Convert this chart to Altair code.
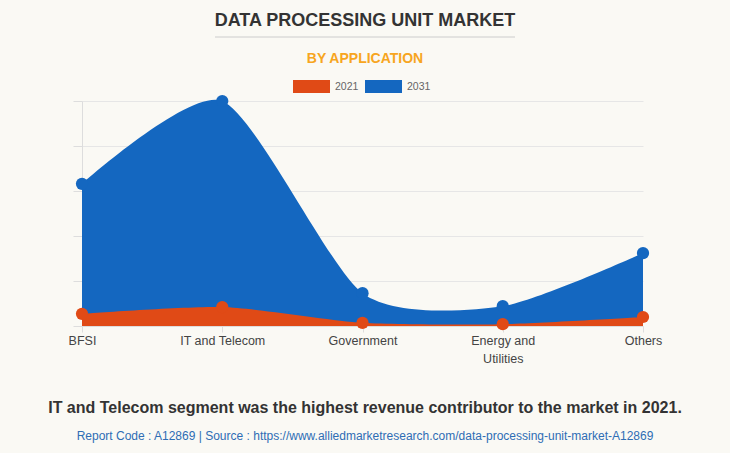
import altair as alt
import pandas as pd

categories = ["BFSI", "IT and Telecom", "Government", "Energy and Utilities", "Others"]
values_2021 = [0.27, 0.42, 0.07, 0.04, 0.20]
values_2031 = [3.16, 5.00, 0.73, 0.44, 1.62]
series = ["2021", "2031"]
colors = ["#E04A16", "#1467C0"]

rows = []
for c, v in zip(categories, values_2021):
    rows.append({"cat": c, "series": "2021", "value": v})
for c, v in zip(categories, values_2031):
    rows.append({"cat": c, "series": "2031", "value": v})
df = pd.DataFrame(rows)

font = "Liberation Sans"

x_enc = alt.X("cat:N", sort=categories, title=None,
              scale=alt.Scale(type="point", padding=0),
              axis=alt.Axis(labelAngle=0, labelFontSize=12.5, labelColor="#444", labelFont=font,
                            labelPadding=2, labelLineHeight=18, tickSize=6, tickColor="#dddddd",
                            gridColor="#e6e6e6", domainColor="#dddddd",
                            labelExpr="datum.label == 'Energy and Utilities' ? ['Energy and', 'Utilities'] : datum.label"))
y_enc = alt.Y("value:Q", title=None,
              scale=alt.Scale(domain=[0, 5]),
              axis=alt.Axis(labels=False, values=[0, 1, 2, 3, 4, 5], tickSize=9, tickColor="#dddddd",
                            gridColor="#e6e6e6", domainColor="#dddddd"))
color_enc = alt.Color("series:N", scale=alt.Scale(domain=series, range=colors),
                      legend=alt.Legend(title=None, orient="none", direction="horizontal",
                                        legendX=211, legendY=-33,
                                        symbolType="M-1,-0.351H1V0.351H-1Z", symbolSize=1369,
                                        symbolStrokeWidth=0, symbolOpacity=1,
                                        labelFont=font, labelFontSize=10.5, labelColor="#666",
                                        labelOffset=5, columnPadding=6))

base = alt.Chart(df)
area_2031 = base.transform_filter(alt.datum.series == "2031").mark_area(
    interpolate="cardinal", tension=0.3, opacity=1, clip=False).encode(x=x_enc, y=y_enc, color=color_enc)
area_2021 = base.transform_filter(alt.datum.series == "2021").mark_area(
    interpolate="cardinal", tension=0.3, opacity=1, clip=False).encode(x=x_enc, y=y_enc, color=color_enc)
pts = base.mark_circle(size=150, opacity=1, clip=False).encode(x=x_enc, y=y_enc, color=color_enc)

def txt(t, x, y, size, color, weight="normal"):
    return alt.Chart(pd.DataFrame({"t": [t]})).mark_text(
        font=font, fontSize=size, color=color, fontWeight=weight, align="center", baseline="middle"
    ).encode(text="t:N", x=alt.value(x), y=alt.value(y))

title = txt("DATA PROCESSING UNIT MARKET", 283, -80, 18, "#333333", "bold")
subtitle = txt("BY APPLICATION", 283, -42, 14, "#F7A520", "bold")
note = txt("IT and Telecom segment was the highest revenue contributor to the market in 2021.",
           283, 307, 16, "#333333", "bold")
source = txt("Report Code : A12869  |  Source : https://www.alliedmarketresearch.com/data-processing-unit-market-A12869",
             283, 335, 12, "#2E6DB4")
underline = alt.Chart(pd.DataFrame({"a": [0]})).mark_rule(color="#cccccc", strokeWidth=1).encode(
    x=alt.value(133), x2=alt.value(433), y=alt.value(-64))

chart = alt.layer(area_2031, area_2021, pts, title, subtitle, underline, note, source).properties(
    width=561, height=225,
    padding={"left": 82, "top": 101, "right": 87, "bottom": 127},
    autosize=alt.AutoSizeParams(type="none"),
    background="#FAF9F4",
).configure_view(stroke=None)

chart.save("out.html", embed_options={"renderer": "svg", "actions": False})
